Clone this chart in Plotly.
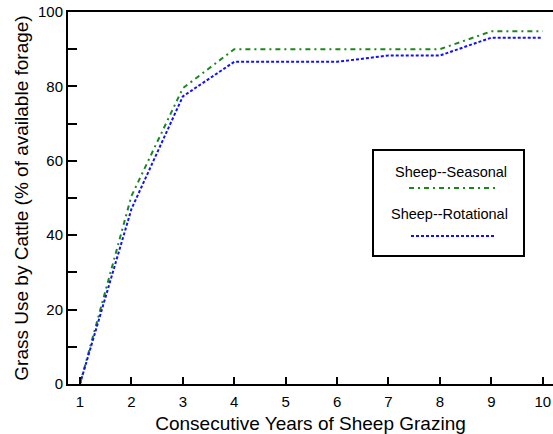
import plotly.graph_objects as go

years = [1, 2, 3, 4, 5, 6, 7, 8, 9, 10]
seasonal = [0, 50.5, 79.5, 90, 90, 90, 90, 90, 94.8, 94.8]
rotational = [0, 47, 77.3, 86.6, 86.6, 86.6, 88.3, 88.3, 93.1, 93.1]
series_names = ["Sheep--Seasonal", "Sheep--Rotational"]
x_ticks = [1, 2, 3, 4, 5, 6, 7, 8, 9, 10]
y_ticks = [0, 20, 40, 60, 80, 100]

GREEN = "#1b871b"
BLUE = "#1010ff"
FONT = "Liberation Sans, Arial, sans-serif"

fig = go.Figure()
fig.add_trace(go.Scatter(x=years, y=seasonal, mode="lines", name=series_names[0],
                         line=dict(color=GREEN, width=2, dash="5px,4px,2px,4px")))
fig.add_trace(go.Scatter(x=years, y=rotational, mode="lines", name=series_names[1],
                         line=dict(color=BLUE, width=2, dash="3px,2px")))

L, T, B, W, H = 68, 12, 50, 553, 434
pw = W - L
ph = H - T - B

def px(x):
    return (x - L) / pw

def py(y):
    return (H - B - y) / ph

# legend box
fig.add_shape(type="rect", xref="paper", yref="paper",
              x0=px(373), x1=px(524), y0=py(256), y1=py(150),
              line=dict(color="black", width=2), fillcolor="white", layer="below")
fig.add_shape(type="line", xref="paper", yref="paper",
              x0=px(409), x1=px(499), y0=py(188), y1=py(188),
              line=dict(color=GREEN, width=2, dash="5px,4px,2px,4px"))
fig.add_shape(type="line", xref="paper", yref="paper",
              x0=px(411), x1=px(495), y0=py(236), y1=py(236),
              line=dict(color=BLUE, width=2, dash="3px,2px"))
fig.add_annotation(xref="paper", yref="paper", x=px(451), y=py(172), text=series_names[0],
                   showarrow=False, font=dict(family=FONT, size=14.5, color="black"),
                   xanchor="center", yanchor="middle")
fig.add_annotation(xref="paper", yref="paper", x=px(449), y=py(214), text=series_names[1],
                   showarrow=False, font=dict(family=FONT, size=14.5, color="black"),
                   xanchor="center", yanchor="middle")

fig.update_layout(
    width=W, height=H,
    margin=dict(l=L, r=0, t=T, b=B, autoexpand=False),
    paper_bgcolor="white", plot_bgcolor="white",
    showlegend=False,
    font=dict(family=FONT, size=15, color="black"),
    xaxis=dict(range=[0.767, 10.2], tickvals=x_ticks, ticks="inside", ticklen=7, tickwidth=2,
               tickcolor="black", showline=True, linewidth=2, linecolor="black", mirror=True,
               showgrid=False, zeroline=False, automargin=False, ticklabelstandoff=3,
               title=dict(text="Consecutive Years of Sheep Grazing", font=dict(size=19), standoff=8)),
    yaxis=dict(range=[0, 100], tickvals=y_ticks, ticks="inside", ticklen=9, tickwidth=2,
               tickcolor="black", showline=True, linewidth=2, linecolor="black",
               showgrid=False, zeroline=False, automargin=False,
               minor=dict(dtick=10, ticks="inside", ticklen=9, tickwidth=2, tickcolor="black", showgrid=False),
               title=dict(text="Grass Use by Cattle (% of available forage)", font=dict(size=19), standoff=4)),
)

fig.write_html("out.html", config={"displayModeBar": False},
               post_script="document.body.style.margin='0';document.body.style.overflow='hidden';")
